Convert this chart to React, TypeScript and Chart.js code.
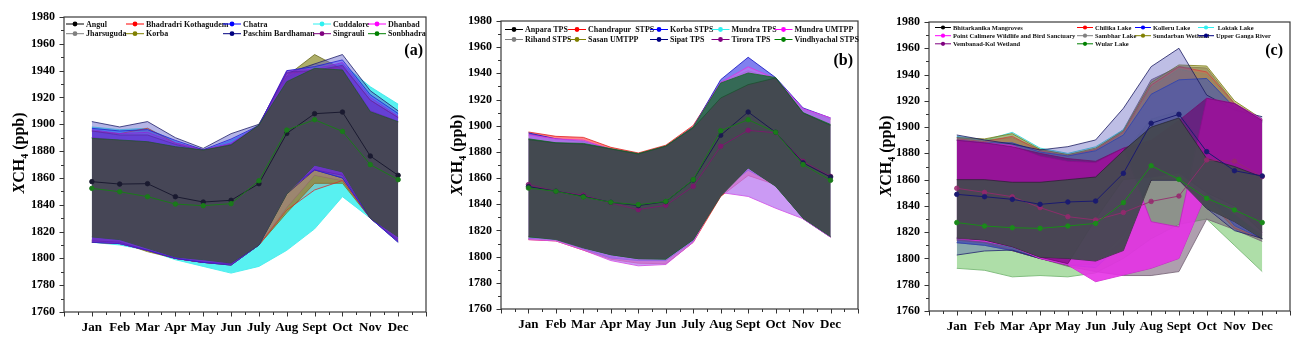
import React, { useEffect, useRef } from "react";
import { Chart, registerables } from "chart.js";
Chart.register(...registerables);

const FAMILY = "'Times New Roman', 'Liberation Serif', 'DejaVu Serif', serif";
const MONTHS = ["Jan", "Feb", "Mar", "Apr", "May", "Jun", "July", "Aug", "Sept", "Oct", "Nov", "Dec"];
const Y_MIN = 1760;
const Y_MAX = 1980;
const Y_STEP = 20;
const SERIES_COLORS = ["#000000", "#ff0000", "#0000ff", "#2ef0f0", "#ff00ff", "#808080", "#808000", "#000080", "#800080", "#008000"];

// ---------- Panel (a) ----------
const A_NAMES = ["Angul", "Bhadradri Kothagudem", "Chatra", "Cuddalore", "Dhanbad", "Jharsuguda", "Korba", "Paschim Bardhaman", "Singrauli", "Sonbhadra"];
const A_CUDDALORE_LO = [1812, 1810, 1806, 1799, 1794, 1789, 1794, 1806, 1822, 1846, 1830, 1813];
const A_CUDDALORE_HI = [1898, 1896, 1897, 1887, 1880, 1888, 1898, 1935, 1942, 1945, 1928, 1915];
const A_KORBA_LO = [1813, 1812, 1805, 1800, 1797, 1796, 1810, 1834, 1856, 1856, 1830, 1814];
const A_KORBA_HI = [1890, 1888, 1887, 1883, 1880, 1884, 1899, 1936, 1952, 1941, 1910, 1902];
const A_JHARSUGUDA_LO = [1814, 1812, 1806, 1800, 1797, 1796, 1810, 1838, 1862, 1858, 1830, 1815];
const A_JHARSUGUDA_HI = [1890, 1888, 1887, 1883, 1880, 1885, 1900, 1935, 1945, 1940, 1910, 1902];
const A_PASCHIM_LO = [1812, 1811, 1806, 1800, 1797, 1795, 1810, 1848, 1866, 1860, 1830, 1812];
const A_PASCHIM_HI = [1902, 1898, 1902, 1890, 1882, 1893, 1900, 1938, 1945, 1952, 1925, 1910];
const A_CHATRA_LO = [1812, 1811, 1806, 1800, 1797, 1795, 1810, 1850, 1866, 1860, 1830, 1812];
const A_CHATRA_HI = [1897, 1895, 1896, 1888, 1881, 1889, 1899, 1940, 1943, 1948, 1922, 1908];
const A_DHANBAD_LO = [1813, 1811, 1806, 1800, 1797, 1796, 1810, 1850, 1866, 1862, 1830, 1813];
const A_DHANBAD_HI = [1896, 1893, 1894, 1886, 1881, 1886, 1899, 1940, 1941, 1946, 1920, 1906];
const A_SINGRAULI_LO = [1813, 1812, 1806, 1800, 1797, 1796, 1810, 1852, 1866, 1862, 1830, 1813];
const A_SINGRAULI_HI = [1895, 1892, 1892, 1885, 1880, 1885, 1899, 1939, 1940, 1944, 1918, 1905];
const A_BHADRADRI_LO = [1812, 1811, 1806, 1800, 1797, 1795, 1810, 1836, 1851, 1858, 1830, 1813];
const A_BHADRADRI_HI = [1895, 1893, 1897, 1886, 1881, 1885, 1898, 1938, 1940, 1943, 1918, 1905];
const A_SONBHADRA_LO = [1816, 1814, 1807.5, 1801, 1799, 1796.5, 1810, 1848, 1869.5, 1864.5, 1830, 1816];
const A_SONBHADRA_HI = [1889.5, 1888.3, 1887, 1883.3, 1880.8, 1884.5, 1899.4, 1931.8, 1941.7, 1940.5, 1909.4, 1901.9];
const A_ANGUL_MEAN = [1857.2, 1855.4, 1855.7, 1846, 1842, 1843.3, 1855.7, 1893.2, 1907.9, 1909.1, 1876.3, 1861.9];
const A_SONBHADRA_MEAN = [1852.2, 1849.7, 1846, 1840.5, 1839.3, 1840.8, 1857.9, 1895.7, 1903.4, 1894.7, 1869.9, 1858.7];

// ---------- Panel (b) ----------
const B_NAMES = ["Anpara TPS", "Chandrapur  STPS", "Korba STPS", "Mundra TPS", "Mundra UMTPP", "Rihand STPS", "Sasan UMTPP", "Sipat TPS", "Tirora TPS", "Vindhyachal STPS"];
const B_CHANDRAPUR_LO = [1813, 1812, 1805, 1798, 1795, 1794.5, 1811, 1846, 1862, 1855, 1829, 1815];
const B_CHANDRAPUR_HI = [1895.2, 1891.9, 1891.1, 1883.5, 1879.2, 1885.1, 1900.2, 1933, 1942, 1936, 1912, 1905];
const B_KORBA_LO = [1814, 1813, 1806, 1799, 1797, 1797, 1812, 1850, 1866, 1855, 1829, 1815];
const B_KORBA_HI = [1894.5, 1890, 1888, 1882, 1878, 1884, 1899, 1935.2, 1952.3, 1936.8, 1913.6, 1905.9];
const B_MUNDRA_UMTPP_LO = [1813, 1812, 1805, 1797, 1793, 1794, 1811, 1849, 1846, 1837, 1829, 1815];
const B_MUNDRA_UMTPP_HI = [1893, 1890, 1889, 1882, 1878, 1884, 1899, 1933, 1945, 1936, 1913, 1906];
const B_VINDHYACHAL_LO = [1815, 1813.5, 1807, 1801.5, 1798.5, 1798, 1813, 1847, 1868, 1854, 1829.5, 1815.5];
const B_VINDHYACHAL_HI = [1890, 1887, 1886.5, 1882.5, 1878.7, 1884.5, 1899, 1932.6, 1940.3, 1936.8, 1910, 1901];
const B_ANPARA_LO = [1815.5, 1813, 1806.6, 1801.5, 1798.4, 1798.4, 1813, 1846.1, 1867.7, 1853.7, 1829.5, 1815.5];
const B_ANPARA_HI = [1889.4, 1886.8, 1886, 1882.2, 1878.4, 1884.3, 1898.3, 1921.2, 1931.4, 1936.5, 1909.7, 1900.3];
const B_TIRORA_MEAN = [1855, 1850, 1847, 1841, 1835.9, 1839.2, 1853.7, 1884.3, 1896.5, 1894.6, 1872.8, 1861.3];
const B_SIPAT_MEAN = [1853.5, 1850, 1846, 1841.5, 1839, 1842, 1858.5, 1892.7, 1910.5, 1895, 1871.6, 1860.8];
const B_VINDHYACHAL_MEAN = [1852.4, 1849.9, 1845.6, 1841.5, 1839.7, 1842.2, 1858.8, 1896.2, 1904.6, 1895, 1870.3, 1858.3];

// ---------- Panel (c) ----------
const C_NAMES = ["Bhitarkanika Mangroves", "Chilika Lake", "Kolleru Lake", " Loktak Lake", "Point Calimere Wildlife and Bird Sanctuary", "Sambhar Lake", "Sundarban Wetland", "Upper Ganga River", "Vembanad-Kol Wetland", "Wular Lake"];
const C_WULAR_LO = [1792.5, 1791, 1786, 1787, 1786, 1789, 1800, 1815, 1826, 1830, 1810, 1790];
const C_WULAR_HI = [1860, 1858, 1857, 1856, 1857, 1860, 1880, 1906, 1912, 1880, 1865, 1860];
const C_SAMBHAR_LO = [1812, 1810, 1806, 1800, 1794, 1790, 1787, 1787, 1790, 1830, 1822, 1813];
const C_SAMBHAR_HI = [1892, 1890, 1892, 1883, 1879, 1883, 1898, 1936, 1946, 1945, 1918, 1906];
const C_LOKTAK_LO = [1815, 1813, 1807, 1800, 1796, 1797, 1815, 1860, 1862, 1845, 1823, 1815];
const C_LOKTAK_HI = [1893, 1890, 1896, 1884, 1880, 1885, 1898, 1930, 1944, 1940, 1918, 1905];
const C_SUNDARBAN_LO = [1814, 1812, 1806, 1800, 1795, 1796, 1814, 1860, 1862, 1845, 1823, 1815];
const C_SUNDARBAN_HI = [1892, 1891, 1895, 1883, 1879, 1884, 1897, 1934, 1947.3, 1946.5, 1920, 1906];
const C_CHILIKA_LO = [1814, 1812, 1806, 1800, 1795, 1796, 1814, 1860, 1862, 1845, 1823, 1815];
const C_CHILIKA_HI = [1891, 1889, 1893, 1882, 1878, 1883, 1896, 1932, 1946, 1942, 1918, 1905];
const C_KOLLERU_LO = [1812, 1810, 1806, 1800, 1795, 1793, 1812, 1862, 1866, 1850, 1825, 1815];
const C_KOLLERU_HI = [1890, 1888, 1888, 1881, 1878, 1882, 1894, 1925, 1936, 1937, 1915, 1904];
const C_GANGA_LO = [1802.6, 1805.7, 1806.4, 1800.1, 1800.1, 1798.3, 1818, 1859.7, 1859.7, 1838.2, 1821.2, 1815.3];
const C_GANGA_HI = [1894, 1890.2, 1887.1, 1882.6, 1885.1, 1890.2, 1914.3, 1946, 1960, 1924.4, 1913, 1907.9];
const C_CALIMERE_LO = [1815, 1813, 1809, 1800, 1795, 1782.3, 1787.4, 1792.5, 1800, 1850, 1834, 1818];
const C_CALIMERE_HI = [1890, 1888, 1886, 1878, 1874, 1873, 1884, 1828, 1824, 1922, 1918, 1906];
const C_VEMBANAD_LO = [1816, 1814, 1809, 1801, 1796, 1830, 1860, 1862, 1865, 1850, 1840, 1820];
const C_VEMBANAD_HI = [1890, 1888, 1885, 1880, 1876, 1874, 1884, 1890, 1905, 1922, 1918, 1905];
const C_BHITARKANIKA_LO = [1815.3, 1814, 1809, 1801, 1800, 1798, 1806, 1859.7, 1859.7, 1838, 1828, 1815];
const C_BHITARKANIKA_HI = [1860, 1860, 1858, 1858, 1860, 1862, 1882, 1900, 1907, 1876, 1870, 1862];
const C_VEMBANAD_MEAN = [1853.4, 1850.3, 1847, 1838.7, 1831.8, 1829.3, 1835, 1843.4, 1847.5, 1875, 1874, 1862.3];
const C_GANGA_MEAN = [1848.8, 1847, 1845, 1841.2, 1843, 1843.7, 1864.8, 1902.9, 1909.7, 1881.3, 1866.8, 1862.8];
const C_WULAR_MEAN = [1827.3, 1824.7, 1823.4, 1822.9, 1824.7, 1826.7, 1842.5, 1870.6, 1860.2, 1845.8, 1836.9, 1827.3];

type Band = { lo: number[]; hi: number[]; fill: string; edge: string };
type Mean = { data: number[]; color: string };
type Panel = {
  canvasLeft: number;
  canvasWidth: number;
  area: { left: number; top: number; right: number; bottom: number };
  title: { x: number; y: number };
  label: { text: string; right: number; y: number };
  legend: { names: string[]; cols: number[]; rows: number[]; font: number; sym: number };
  bands: Band[];
  means: Mean[];
};

const DARK = "rgba(68,72,80,0.95)";

const PANELS: Panel[] = [
  {
    canvasLeft: 0,
    canvasWidth: 434,
    area: { left: 64, top: 17, right: 429, bottom: 312 },
    title: { x: 20, y: 153 },
    label: { text: "(a)", right: 423, y: 51 },
    legend: { names: A_NAMES, cols: [86, 146, 243, 333, 388], rows: [24, 33.7], font: 8, sym: 18 },
    bands: [
      { lo: A_CUDDALORE_LO, hi: A_CUDDALORE_HI, fill: "rgba(70,240,240,0.9)", edge: "#30e8e8" },
      { lo: A_KORBA_LO, hi: A_KORBA_HI, fill: "rgba(140,140,40,0.7)", edge: "#6a6a20" },
      { lo: A_JHARSUGUDA_LO, hi: A_JHARSUGUDA_HI, fill: "rgba(150,150,150,0.6)", edge: "#777" },
      { lo: A_PASCHIM_LO, hi: A_PASCHIM_HI, fill: "rgba(90,90,200,0.45)", edge: "#20206a" },
      { lo: A_BHADRADRI_LO, hi: A_BHADRADRI_HI, fill: "rgba(255,0,0,0.15)", edge: "#d03030" },
      { lo: A_DHANBAD_LO, hi: A_DHANBAD_HI, fill: "rgba(200,0,220,0.28)", edge: "#c020c0" },
      { lo: A_SINGRAULI_LO, hi: A_SINGRAULI_HI, fill: "rgba(110,0,160,0.3)", edge: "#702070" },
      { lo: A_CHATRA_LO, hi: A_CHATRA_HI, fill: "rgba(60,50,255,0.4)", edge: "#2020d0" },
      { lo: A_SONBHADRA_LO, hi: A_SONBHADRA_HI, fill: DARK, edge: "rgba(20,90,30,0.8)" },
    ],
    means: [
      { data: A_ANGUL_MEAN, color: "#1a1a30" },
      { data: A_SONBHADRA_MEAN, color: "#1a7a1a" },
    ],
  },
  {
    canvasLeft: 434,
    canvasWidth: 434,
    area: { left: 501, top: 21, right: 858, bottom: 309 },
    title: { x: 458, y: 155 },
    label: { text: "(b)", right: 853, y: 61 },
    legend: { names: B_NAMES, cols: [525, 588, 670, 731.5, 794.5], rows: [29.5, 39.5], font: 8, sym: 18 },
    bands: [
      { lo: B_CHANDRAPUR_LO, hi: B_CHANDRAPUR_HI, fill: "rgba(255,50,50,0.6)", edge: "#e02020" },
      { lo: B_KORBA_LO, hi: B_KORBA_HI, fill: "rgba(60,60,230,0.65)", edge: "#1010c0" },
      { lo: B_MUNDRA_UMTPP_LO, hi: B_MUNDRA_UMTPP_HI, fill: "rgba(185,120,240,0.75)", edge: "#e030e0" },
      { lo: B_VINDHYACHAL_LO, hi: B_VINDHYACHAL_HI, fill: "rgba(40,105,70,0.9)", edge: "#1a6a2a" },
      { lo: B_ANPARA_LO, hi: B_ANPARA_HI, fill: DARK, edge: "rgba(20,80,40,0.8)" },
    ],
    means: [
      { data: B_TIRORA_MEAN, color: "rgba(128,20,110,0.85)" },
      { data: B_SIPAT_MEAN, color: "#1a1a50" },
      { data: B_VINDHYACHAL_MEAN, color: "#1a7a1a" },
    ],
  },
  {
    canvasLeft: 868,
    canvasWidth: 435,
    area: { left: 929, top: 22, right: 1290, bottom: 311 },
    title: { x: 887, y: 156 },
    label: { text: "(c)", right: 1283, y: 51 },
    legend: { names: C_NAMES, cols: [953, 1095, 1153, 1216], rows: [27.5, 35.7, 43.8], font: 6.5, sym: 16 },
    bands: [
      { lo: C_WULAR_LO, hi: C_WULAR_HI, fill: "rgba(120,200,110,0.6)", edge: "rgba(0,110,0,0.6)" },
      { lo: C_SAMBHAR_LO, hi: C_SAMBHAR_HI, fill: "rgba(120,95,120,0.6)", edge: "#706070" },
      { lo: C_LOKTAK_LO, hi: C_LOKTAK_HI, fill: "rgba(60,200,200,0.45)", edge: "#30d0d0" },
      { lo: C_SUNDARBAN_LO, hi: C_SUNDARBAN_HI, fill: "rgba(150,150,30,0.5)", edge: "#7a7a10" },
      { lo: C_CHILIKA_LO, hi: C_CHILIKA_HI, fill: "rgba(230,60,60,0.3)", edge: "#d04040" },
      { lo: C_KOLLERU_LO, hi: C_KOLLERU_HI, fill: "rgba(40,80,200,0.5)", edge: "#2040b0" },
      { lo: C_GANGA_LO, hi: C_GANGA_HI, fill: "rgba(70,70,180,0.35)", edge: "#1a1a60" },
      { lo: C_CALIMERE_LO, hi: C_CALIMERE_HI, fill: "rgba(230,50,230,0.9)", edge: "#c020c0" },
      { lo: C_VEMBANAD_LO, hi: C_VEMBANAD_HI, fill: "rgba(110,0,110,0.62)", edge: "#701070" },
      { lo: C_BHITARKANIKA_LO, hi: C_BHITARKANIKA_HI, fill: DARK, edge: "rgba(30,30,40,0.8)" },
    ],
    means: [
      { data: C_VEMBANAD_MEAN, color: "rgba(150,40,110,0.85)" },
      { data: C_WULAR_MEAN, color: "#1a8a1a" },
      { data: C_GANGA_MEAN, color: "#1a1a70" },
    ],
  },
];

const pts = (arr: number[]) => arr.map((v, i) => ({ x: i + 1, y: v }));

function PanelChart({ p }: { p: Panel }) {
  const ref = useRef<HTMLCanvasElement | null>(null);
  useEffect(() => {
    const canvas = ref.current;
    if (!canvas) return;
    const datasets: any[] = [];
    let k = 0;
    p.bands.forEach((b) => {
      datasets.push({ data: pts(b.lo), borderColor: b.edge, borderWidth: 0.8, pointRadius: 0, fill: false, tension: 0, order: 1000 - k++ });
      datasets.push({ data: pts(b.hi), borderColor: b.edge, borderWidth: 0.8, pointRadius: 0, fill: "-1", backgroundColor: b.fill, tension: 0, order: 1000 - k++ });
    });
    p.means.forEach((m) => {
      datasets.push({
        data: pts(m.data), borderColor: m.color, borderWidth: 1, pointRadius: 2.3, pointBorderWidth: 0.8,
        pointBackgroundColor: m.color, pointBorderColor: m.color, fill: false, tension: 0, order: 1000 - k++,
      });
    });

    const yW = p.area.left - p.canvasLeft;
    const xH = 347 - p.area.bottom;
    const rightPad = p.canvasLeft + p.canvasWidth - p.area.right;
    const L = p.canvasLeft;

    const decor = {
      id: "decor",
      afterDraw(chart: any) {
        const ctx = chart.ctx as CanvasRenderingContext2D;
        const { left, right, top, bottom } = chart.chartArea;
        const xs = chart.scales.x;
        const ys = chart.scales.y;
        ctx.save();
        ctx.strokeStyle = "#333";
        ctx.lineWidth = 1;
        ctx.beginPath();
        for (let v = 0; v <= 13.001; v += 0.5) {
          const px = Math.round(xs.getPixelForValue(v)) + 0.5;
          const len = Math.abs(v - Math.round(v)) < 1e-6 ? 4.5 : 3;
          ctx.moveTo(px, bottom);
          ctx.lineTo(px, bottom + len);
        }
        for (let v = Y_MIN; v <= Y_MAX; v += Y_STEP / 2) {
          const py = Math.round(ys.getPixelForValue(v)) + 0.5;
          const len = (v - Y_MIN) % Y_STEP === 0 ? 4.5 : 3;
          ctx.moveTo(left - len, py);
          ctx.lineTo(left, py);
        }
        ctx.stroke();
        ctx.lineWidth = 1.2;
        ctx.strokeStyle = "#3a3a3a";
        ctx.strokeRect(left, top, right - left, bottom - top);

        const lg = p.legend;
        const ncols = lg.cols.length;
        ctx.font = `bold ${lg.font}px ${FAMILY}`;
        ctx.textBaseline = "middle";
        ctx.textAlign = "left";
        lg.names.forEach((name, i) => {
          const col = i % ncols;
          const row = Math.floor(i / ncols);
          const tx = lg.cols[col] - L;
          const ty = lg.rows[row];
          const color = SERIES_COLORS[i];
          ctx.strokeStyle = color;
          ctx.lineWidth = 1;
          ctx.beginPath();
          ctx.moveTo(tx - 2 - lg.sym, ty);
          ctx.lineTo(tx - 2, ty);
          ctx.stroke();
          ctx.fillStyle = color;
          ctx.beginPath();
          ctx.arc(tx - 2 - lg.sym / 2, ty, lg.font > 7 ? 2.4 : 2.1, 0, Math.PI * 2);
          ctx.fill();
          ctx.fillStyle = "#111";
          ctx.fillText(name, tx, ty + 0.5);
        });

        ctx.font = `bold 16px ${FAMILY}`;
        ctx.textAlign = "right";
        ctx.textBaseline = "middle";
        ctx.fillStyle = "#000";
        ctx.fillText(p.label.text, p.label.right - L, p.label.y);

        const big = `bold 16px ${FAMILY}`;
        const ital = `italic bold 16px ${FAMILY}`;
        const small = `bold 10px ${FAMILY}`;
        const parts: [string, string, number][] = [["X", ital, 0], ["CH", big, 0], ["4", small, 5], [" (ppb)", big, 0]];
        let total = 0;
        parts.forEach(([t, f]) => { ctx.font = f; total += ctx.measureText(t).width; });
        ctx.translate(p.title.x - L, p.title.y);
        ctx.rotate(-Math.PI / 2);
        ctx.textAlign = "left";
        ctx.textBaseline = "middle";
        let x = -total / 2;
        parts.forEach(([t, f, dy]) => {
          ctx.font = f;
          ctx.fillText(t, x, dy);
          x += ctx.measureText(t).width;
        });
        ctx.restore();
      },
    };

    const chart = new Chart(canvas, {
      type: "line",
      data: { datasets },
      options: {
        animation: false,
        responsive: false,
        maintainAspectRatio: false,
        devicePixelRatio: 1,
        layout: { padding: { left: 0, top: p.area.top, right: rightPad, bottom: 0 } },
        plugins: { legend: { display: false }, tooltip: { enabled: false } },
        scales: {
          x: {
            type: "linear",
            min: 0,
            max: 13,
            afterFit: (s: any) => { s.height = xH; },
            grid: { display: false, drawTicks: false },
            border: { display: false },
            ticks: {
              stepSize: 1,
              autoSkip: false,
              maxRotation: 0,
              padding: 8,
              color: "#000",
              font: { family: FAMILY, size: 13, weight: "bold" },
              callback: (v: any) => {
                const n = Number(v);
                const i = Math.round(n);
                return Math.abs(n - i) < 1e-6 && i >= 1 && i <= 12 ? MONTHS[i - 1] : "";
              },
            },
          },
          y: {
            type: "linear",
            min: Y_MIN,
            max: Y_MAX,
            afterFit: (s: any) => { s.width = yW; },
            grid: { display: false, drawTicks: false },
            border: { display: false },
            ticks: {
              stepSize: Y_STEP,
              padding: 9,
              color: "#000",
              font: { family: FAMILY, size: 12, weight: "bold" },
              callback: (v: any) => String(v),
            },
          },
        },
      } as any,
      plugins: [decor],
    });
    return () => chart.destroy();
  }, [p]);

  return (
    <canvas
      ref={ref}
      width={p.canvasWidth}
      height={347}
      style={{ position: "absolute", left: p.canvasLeft, top: 0, width: p.canvasWidth, height: 347 }}
    />
  );
}

export default function App() {
  return (
    <div style={{ position: "absolute", left: 0, top: 0, width: 1303, height: 347, background: "#fff", overflow: "hidden" }}>
      {PANELS.map((p, i) => (
        <PanelChart key={i} p={p} />
      ))}
    </div>
  );
}
